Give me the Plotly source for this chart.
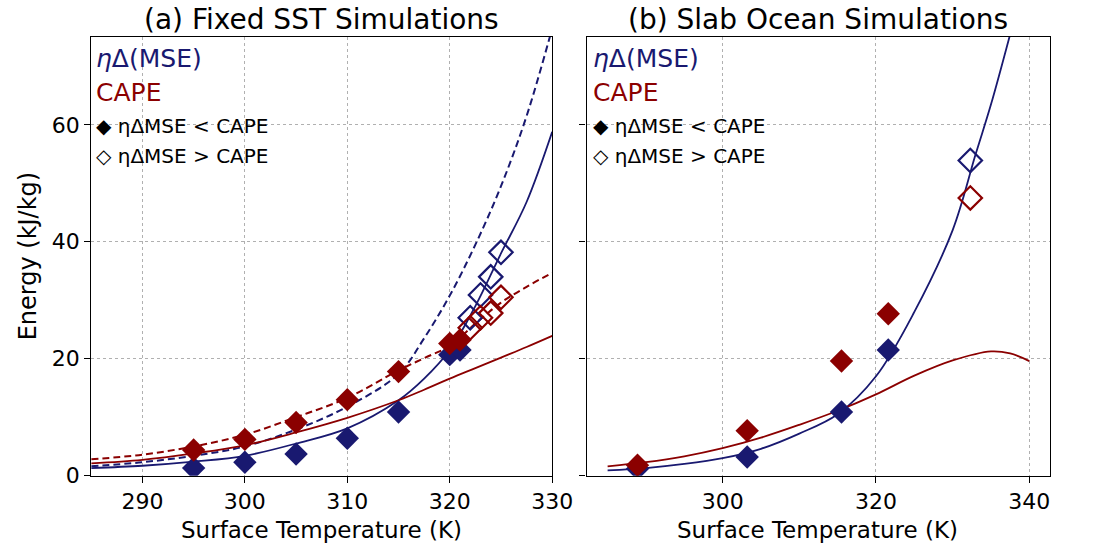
import plotly.graph_objects as go

BLUE = "#191970"
RED = "#8B0000"
FONT = "DejaVu Sans"

# ---- (a) Fixed SST: simulation points ----
a_T_fill_mse = [295, 300, 305, 310, 315, 320, 321]
a_mse_fill = [1.3, 2.3, 3.7, 6.4, 10.9, 20.7, 21.5]
a_T_fill_cape = [295, 300, 305, 310, 315, 320, 321]
a_cape_fill = [4.4, 6.2, 9.1, 13.0, 17.8, 22.6, 23.2]
a_T_open = [322, 323, 324, 325]
a_mse_open = [27.0, 30.9, 34.0, 38.2]
a_cape_open = [25.3, 27.0, 27.8, 30.5]

# ---- (a) curves ----
a_curve_T = [285, 290, 295, 300, 305, 310, 315, 317.5, 320, 322.5, 325, 327.5, 330]
a_mse_solid = [1.3, 1.7, 2.4, 3.4, 5.5, 8.1, 12.9, 16.6, 21.5, 29.0, 38.0, 46.8, 58.8]
a_cape_solid = [2.1, 2.7, 3.8, 5.2, 7.4, 9.9, 12.9, 14.7, 16.6, 18.4, 20.2, 22.0, 23.9]
a_cape_dash = [2.8, 3.6, 5.0, 7.0, 10.0, 13.3, 18.0, 20.1, 22.2, 26.0, 29.6, 32.3, 34.7]
a_dash_T = [285, 290, 295, 300, 305, 310, 315, 317.5, 320, 322.5, 325, 327.5, 330]
a_mse_dash = [1.6, 2.3, 3.4, 5.0, 7.9, 11.8, 17.4, 23.5, 30.8, 39.5, 49.5, 61.5, 76.5]

# ---- (b) Slab ocean: simulation points ----
b_T_fill = [288.9, 303.2, 315.5, 321.6]
b_mse_fill = [1.2, 3.2, 10.9, 21.5]
b_cape_fill = [1.8, 7.7, 19.6, 27.7]
b_T_open = [332.3]
b_mse_open = [53.9]
b_cape_open = [47.5]

# ---- (b) curves ----
b_mse_T = [285, 290, 295, 300, 305, 310, 315, 320, 325, 330, 333, 335, 337.5]
b_mse_curve = [0.9, 1.3, 2.0, 3.0, 4.6, 7.2, 10.5, 17.0, 28.0, 42.0, 55.0, 63.5, 75.5]
b_cape_T = [285, 290, 295, 300, 305, 310, 315, 320, 325, 330, 335, 337.5, 340]
b_cape_curve = [1.6, 2.3, 3.3, 4.7, 6.5, 8.7, 11.1, 13.9, 17.1, 19.7, 21.25, 20.9, 19.6]

a_xticks = [290, 300, 310, 320, 330]
b_xticks = [300, 320, 340]
yticks = [0, 20, 40, 60]

fig = go.Figure()

def line(x, y, color, dash, xa, ya, w=2):
    fig.add_trace(go.Scatter(x=x, y=y, mode="lines", xaxis=xa, yaxis=ya,
                             line=dict(color=color, width=w, dash=dash, shape="spline", smoothing=1.0),
                             showlegend=False, hoverinfo="skip"))

def pts(x, y, color, filled, xa, ya):
    if filled:
        m = dict(symbol="diamond", size=18, color=color, line=dict(width=0))
    else:
        m = dict(symbol="diamond-open", size=18, color=color, line=dict(width=2.2, color=color))
    fig.add_trace(go.Scatter(x=x, y=y, mode="markers", xaxis=xa, yaxis=ya, marker=m,
                             showlegend=False, hoverinfo="skip"))

# panel a
line(a_curve_T, a_mse_solid, BLUE, "solid", "x", "y", 1.8)
line(a_dash_T, a_mse_dash, BLUE, "7px,4px", "x", "y", 2)
line(a_curve_T, a_cape_solid, RED, "solid", "x", "y", 1.8)
line(a_curve_T, a_cape_dash, RED, "7px,4px", "x", "y", 2)
pts(a_T_fill_mse, a_mse_fill, BLUE, True, "x", "y")
pts(a_T_fill_cape, a_cape_fill, RED, True, "x", "y")
pts(a_T_open, a_mse_open, BLUE, False, "x", "y")
pts(a_T_open, a_cape_open, RED, False, "x", "y")

# panel b
line(b_mse_T, b_mse_curve, BLUE, "solid", "x2", "y2", 1.8)
line(b_cape_T, b_cape_curve, RED, "solid", "x2", "y2", 1.8)
pts(b_T_fill, b_mse_fill, BLUE, True, "x2", "y2")
pts(b_T_fill, b_cape_fill, RED, True, "x2", "y2")
pts(b_T_open, b_mse_open, BLUE, False, "x2", "y2")
pts(b_T_open, b_cape_open, RED, False, "x2", "y2")

W, H = 1094, 559
axis_common = dict(showline=True, linecolor="black", linewidth=1.2, mirror=True,
                   ticks="outside", ticklen=6, tickwidth=1.2, tickcolor="black",
                   showgrid=True, gridcolor="#b0b0b0", griddash="dot", gridwidth=1,
                   zeroline=False, tickfont=dict(family=FONT, size=22, color="black"))

xa_dom = [93 / W, 563 / W]
xb_dom = [598 / W, 1071 / W]
y_dom = [1 - 487 / H, 1 - 38 / H]

fig.update_layout(
    width=W, height=H, margin=dict(l=0, r=0, t=0, b=0),
    paper_bgcolor="white", plot_bgcolor="white",
    xaxis=dict(domain=xa_dom, range=[285, 330], tickvals=a_xticks, anchor="y", **axis_common),
    yaxis=dict(domain=y_dom, range=[0, 75], tickvals=yticks, anchor="x", **axis_common),
    xaxis2=dict(domain=xb_dom, range=[282.25, 342.75], tickvals=b_xticks, anchor="y2", **axis_common),
    yaxis2=dict(domain=y_dom, range=[0, 75], tickvals=yticks, anchor="x2", showticklabels=False, **axis_common),
)

ann = []
def text(x, y, s, size, color="black", xanchor="center", yanchor="middle", angle=0):
    ann.append(dict(x=x / W, y=1 - y / H, xref="paper", yref="paper", text=s, showarrow=False,
                    xanchor=xanchor, yanchor=yanchor, textangle=angle,
                    font=dict(family=FONT, size=size, color=color)))

text(328, 20, "(a) Fixed SST Simulations", 28)
text(834, 20, "(b) Slab Ocean Simulations", 28)
text(328, 543, "Surface Temperature (K)", 23)
text(834, 543, "Surface Temperature (K)", 23)
text(28, 262, "Energy (kJ/kg)", 24, angle=-90)

for x0 in (96, 603):
    text(x0, 60, "<i>η</i>Δ(MSE)", 25, BLUE, xanchor="left")
    text(x0, 95, "CAPE", 25, RED, xanchor="left")
    text(x0, 129, "◆ ηΔMSE < CAPE", 20, xanchor="left")
    text(x0, 160, "◇ ηΔMSE > CAPE", 20, xanchor="left")

fig.update_layout(annotations=ann)
fig.write_html("out.html", config={"displayModeBar": False},
               post_script="document.body.style.margin='0';document.body.style.overflow='hidden';")
